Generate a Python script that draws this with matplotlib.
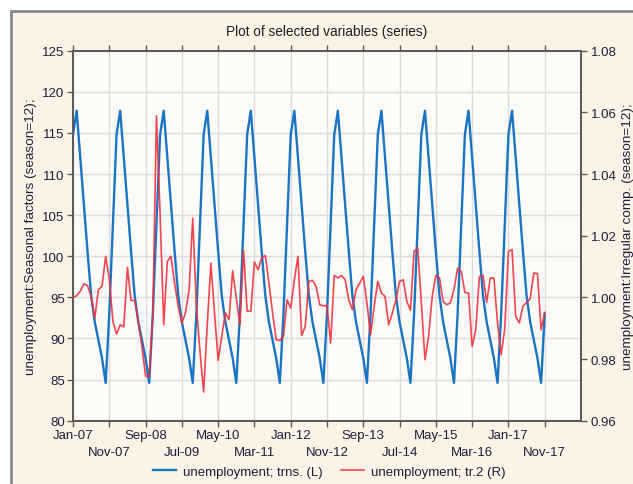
import matplotlib
matplotlib.use("Agg")
import matplotlib.pyplot as plt
from matplotlib.patches import Rectangle

plt.rcParams['font.family'] = ['Liberation Sans', 'DejaVu Sans']

# month index 0 = Jan-07; labels alternate between two rows
tick_pos = [0, 10, 20, 30, 40, 50, 60, 70, 80, 90, 100, 110, 120, 130]
tick_labels = ["Jan-07", "Nov-07", "Sep-08", "Jul-09", "May-10", "Mar-11", "Jan-12",
               "Nov-12", "Sep-13", "Jul-14", "May-15", "Mar-16", "Jan-17", "Nov-17"]

# seasonal factors (left axis), one row per year, Jan..Dec
trns = [
    114.8, 117.7, 112.0, 106.2, 100.6, 95.2, 92.0, 89.8, 87.6, 84.6, 93.0, 104.0,  # 2007
    114.8, 117.7, 112.0, 106.2, 100.6, 95.2, 92.0, 89.8, 87.6, 84.6, 93.0, 104.0,  # 2008
    114.8, 117.7, 112.0, 106.2, 100.6, 95.2, 92.0, 89.8, 87.6, 84.6, 93.0, 104.0,  # 2009
    114.8, 117.7, 112.0, 106.2, 100.6, 95.2, 92.0, 89.8, 87.6, 84.6, 93.0, 104.0,  # 2010
    114.8, 117.7, 112.0, 106.2, 100.6, 95.2, 92.0, 89.8, 87.6, 84.6, 93.0, 104.0,  # 2011
    114.8, 117.7, 112.0, 106.2, 100.6, 95.2, 92.0, 89.8, 87.6, 84.6, 93.0, 104.0,  # 2012
    114.8, 117.7, 112.0, 106.2, 100.6, 95.2, 92.0, 89.8, 87.6, 84.6, 93.0, 104.0,  # 2013
    114.8, 117.7, 112.0, 106.2, 100.6, 95.2, 92.0, 89.8, 87.6, 84.6, 93.0, 104.0,  # 2014
    114.8, 117.7, 112.0, 106.2, 100.6, 95.2, 92.0, 89.8, 87.6, 84.6, 93.0, 104.0,  # 2015
    114.8, 117.7, 112.0, 106.2, 100.6, 95.2, 92.0, 89.8, 87.6, 84.6, 93.0, 104.0,  # 2016
    114.8, 117.7, 112.0, 106.2, 100.6, 95.2, 92.0, 89.8, 87.6, 84.6, 93.0,         # 2017
]

# irregular component (right axis)
tr2 = [
    1.0000, 1.0005, 1.0020, 1.0044, 1.0038, 1.0003, 0.9933, 1.0025, 1.0036, 1.0133, 1.0060, 0.9922,
    0.9881, 0.9911, 0.9904, 1.0097, 0.9990, 0.9990, 0.9920, 0.9840, 0.9744, 0.9744, 0.9940, 1.0589,
    1.0270, 0.9911, 1.0117, 1.0133, 1.0046, 0.9970, 0.9917, 0.9950, 1.0025, 1.0257, 0.9973, 0.9824,
    0.9693, 0.9910, 1.0111, 0.9950, 0.9796, 0.9874, 0.9949, 0.9928, 1.0086, 0.9998, 0.9911, 1.0152,
    0.9955, 0.9955, 1.0115, 1.0090, 1.0128, 1.0136, 1.0046, 0.9950, 0.9863, 0.9860, 0.9874, 0.9992,
    0.9965, 1.0057, 1.0133, 0.9876, 0.9906, 1.0052, 1.0055, 1.0036, 0.9976, 0.9973, 0.9973, 0.9852,
    1.0071, 1.0063, 1.0071, 1.0057, 0.9992, 0.9960, 1.0025, 1.0046, 1.0068, 0.9982, 0.9879, 0.9971,
    1.0052, 1.0014, 1.0003, 0.9911, 0.9949, 0.9992, 1.0052, 1.0057, 0.9987, 0.9958, 1.0149, 1.0160,
    0.9982, 0.9798, 0.9874, 1.0003, 1.0071, 1.0063, 0.9987, 0.9976, 0.9982, 1.0025, 1.0095, 1.0084,
    1.0016, 1.0014, 0.9841, 0.9895, 1.0068, 1.0071, 0.9984, 1.0063, 1.0063, 0.9917, 0.9814, 0.9900,
    1.0149, 1.0155, 0.9938, 0.9917, 0.9971, 0.9984, 0.9995, 1.0079, 1.0077, 0.9895, 0.9951,
]

left_ticks = [80, 85, 90, 95, 100, 105, 110, 115, 120, 125]
right_ticks = [0.96, 0.98, 1.00, 1.02, 1.04, 1.06, 1.08]

BLUE = "#1a74c4"
RED = "#f0323c"
TXT = "#1e1e3c"
SPINE = "#5a5a5a"
GRID = "#dcdcdc"

fig = plt.figure(figsize=(6.33, 4.85), dpi=100)
fig.patch.set_facecolor("white")
fig.patches.append(Rectangle((11 / 633, -0.05), 1.0, (485 - 12) / 485 + 0.05,
                             transform=fig.transFigure, facecolor="#fbf4e6",
                             edgecolor="#8a8a8a", linewidth=2, zorder=-10))

ax = fig.add_axes([73 / 633, 1 - 421.7 / 485, 508 / 633, 370 / 485])
ax.set_facecolor("#fdfbf8")
ax2 = ax.twinx()

x = list(range(len(trns)))
l1, = ax.plot(x, trns, color=BLUE, lw=1.7, zorder=3)
x2 = list(range(len(tr2)))
l2, = ax2.plot(x2, tr2, color=RED, lw=1.2, alpha=0.9, zorder=3)

ax.set_xlim(0, 140)
ax.set_ylim(80, 125)
ax2.set_ylim(0.96, 1.08)
ax.set_yticks(left_ticks)
ax2.set_yticks(right_ticks)
ax2.set_yticklabels(["%.2f" % v for v in right_ticks])

# two label rows: even ticks as major, odd ticks as minor with a larger pad
ax.set_xticks(tick_pos[0::2])
ax.set_xticklabels(tick_labels[0::2])
ax.set_xticks(tick_pos[1::2], minor=True)
ax.set_xticklabels(tick_labels[1::2], minor=True)

for v in tick_pos:
    ax.axvline(v, color=GRID, lw=1, zorder=1)
for v in left_ticks[1:-1]:
    ax.axhline(v, color=GRID, lw=1, zorder=1)

for a in (ax, ax2):
    for s in a.spines.values():
        s.set_color(SPINE)
        s.set_linewidth(1.3)
    a.tick_params(which="both", colors=SPINE, labelcolor=TXT, labelsize=9.5,
                  length=4, width=1)
ax.tick_params(axis="x", which="both", top=True)
ax.tick_params(axis="x", which="major", pad=2)
ax.tick_params(axis="x", which="minor", pad=14.2)
ax.tick_params(axis="y", pad=2)
ax2.tick_params(axis="y", pad=3)

ax.set_title("Plot of selected variables (series)", fontsize=9.8, color="#1e1e1e", pad=11)
ax.set_ylabel("unemployment:Seasonal factors (season=12);", fontsize=9.7, color=TXT, labelpad=4)
ax2.set_ylabel("unemployment:Irregular comp. (season=12);", fontsize=9.7, color=TXT, labelpad=4)

fig.legend([l1, l2], ["unemployment; trns. (L)", "unemployment; tr.2 (R)"],
           loc="center", bbox_to_anchor=(0.52, 0.026), ncol=2, frameon=False,
           fontsize=9.5, handlelength=1.75, columnspacing=1.4, handletextpad=0.5,
           labelcolor=TXT)

fig.savefig("out.png", dpi=100)
